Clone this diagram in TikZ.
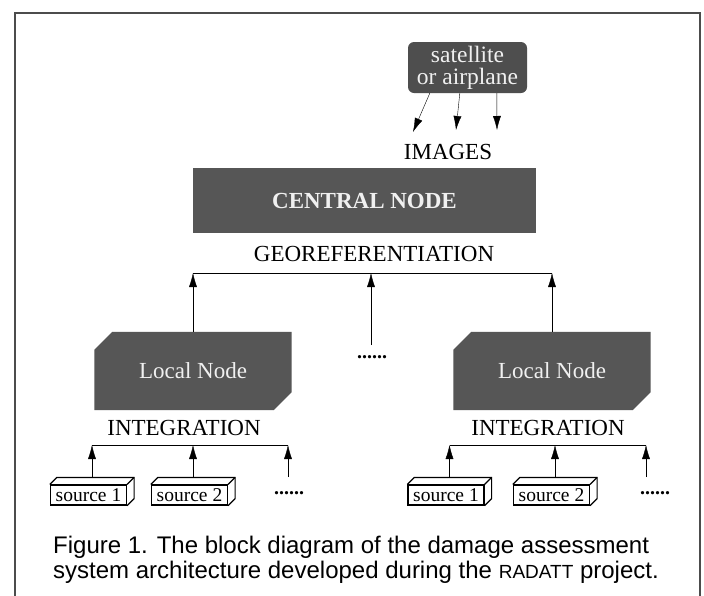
\documentclass[tikz,border=0pt]{standalone}
\usepackage{fontspec}
\setmainfont{Liberation Serif}
\newfontfamily\capfont{Liberation Sans}
\usetikzlibrary{arrows.meta,calc,backgrounds}
\definecolor{boxgray}{HTML}{565656}
\definecolor{satgray}{HTML}{4E4E4E}
\definecolor{boxtext}{HTML}{F0F0F0}
\begin{document}
\begin{tikzpicture}[x=1pt,y=-1pt,line width=1.5pt,
  arr/.style={-{Latex[length=14pt,width=8pt]}},
  lbl/.style={font=\fontsize{23}{24}\selectfont,inner sep=0pt},
  satbox/.style={fill=satgray,rounded corners=6pt,minimum width=119pt,minimum height=51pt,
    text=boxtext,align=center,inner sep=0pt,font=\fontsize{23.5}{22}\selectfont},
  cbox/.style={fill=boxgray,minimum width=343pt,minimum height=65pt,text=boxtext,
    inner sep=0pt,font=\bfseries\fontsize{23}{24}\selectfont},
  lbox/.style={minimum width=197pt,minimum height=78pt,text=boxtext,inner sep=0pt,
    font=\fontsize{23}{24}\selectfont},
  srcbox/.style={draw,line width=1.2pt,fill=white,minimum width=76pt,minimum height=20pt,
    inner sep=0pt,font=\fontsize{19.5}{20}\selectfont},
  dotsl/.style={inner sep=0pt,font=\bfseries\fontsize{20}{20}\selectfont},
  capt/.style={inner sep=0pt,anchor=base west,font=\capfont\fontsize{24}{26}\selectfont},
  face/.style={line width=1.2pt}]
\useasboundingbox (0,0) rectangle (704,595);
\begin{pgfonlayer}{background}
\fill[white] (0,0) rectangle (704,595);
\end{pgfonlayer}
% frame
\draw[line width=1.5pt,black!70] (15,596) -- (15,13) -- (700,13) -- (700,596);

% satellite
\node[satbox] (sat) at (467.5,67.5) {satellite\\or airplane};
\node[lbl] (images) at (448,152) {IMAGES};
\coordinate (im1) at (413,132);
\coordinate (im2) at (456,130);
\coordinate (im3) at (497,130);
\draw[arr] ($(sat.south west)+(22,0)$) -- (im1);
\draw[arr] ($(sat.south west)+(52,0)$) -- (im2);
\draw[arr] ($(sat.south west)+(89,0)$) -- (im3);

% central node
\node[cbox] (central) at (364.5,200.5) {CENTRAL NODE};
\node[lbl] (geo) at (374,254) {GEOREFERENTIATION};
\coordinate (gL) at (193,273);
\coordinate (gM) at (371,273);
\coordinate (gR) at (552,273);
\draw (gL) -- (gR);

% local nodes
\node[lbox] (ln1) at (193,371) {Local Node};
\node[lbox] (ln2) at (552,371) {Local Node};
\begin{pgfonlayer}{background}
\foreach \n in {ln1,ln2}{
  \fill[boxgray] ($(\n.north west)+(18,0)$) -- (\n.north east) -- ($(\n.south east)+(0,-18)$)
    -- ($(\n.south east)+(-18,0)$) -- (\n.south west) -- ($(\n.north west)+(0,18)$) -- cycle;
}
\end{pgfonlayer}
\draw[arr] (ln1.north) -- (gL);
\draw[arr] (ln2.north) -- (gR);
\node[dotsl] (dm) at (372,357) {......};
\coordinate (dmt) at (371,345);
\draw[arr] (dmt) -- (gM);

% integration labels and buses
\node[lbl] (int1) at (184,428) {INTEGRATION};
\node[lbl] (int2) at (548,428) {INTEGRATION};
\coordinate (b1a) at (92,445);
\coordinate (b1b) at (193,445);
\coordinate (b1c) at (288,445);
\coordinate (b2a) at (449.5,445);
\coordinate (b2b) at (555,445);
\coordinate (b2c) at (646,445);
\draw (b1a) -- (b1c);
\draw (b2a) -- (b2c);

% sources
\node[srcbox] (s11) at (88.5,495) {source 1};
\node[srcbox] (s12) at (189.5,495) {source 2};
\node[srcbox] (s21) at (446,495) {source 1};
\node[srcbox] (s22) at (551.5,495) {source 2};
\foreach \n in {s11,s12,s21,s22}{
  \draw[face] (\n.north west) -- ($(\n.north west)+(7,-7)$) -- ($(\n.north east)+(7,-7)$)
    -- ($(\n.south east)+(7,-7)$) -- (\n.south east);
  \draw[face] (\n.north east) -- ($(\n.north east)+(7,-7)$);
}
\node[dotsl] (d1) at (289,493) {......};
\node[dotsl] (d2) at (655,493) {......};
\coordinate (d1t) at (288,477);
\coordinate (d2t) at (646,477);
\draw[arr] ($(s11.north)+(3.5,-7)$) -- (b1a);
\draw[arr] ($(s12.north)+(3.5,-7)$) -- (b1b);
\draw[arr] (d1t) -- (b1c);
\draw[arr] ($(s21.north)+(3.5,-7)$) -- (b2a);
\draw[arr] ($(s22.north)+(3.5,-7)$) -- (b2b);
\draw[arr] (d2t) -- (b2c);

% caption
\node[capt] (cap1) at (53,553) {Figure 1. The block diagram of the damage assessment};
\node[capt] (cap2) at (53,578) {system architecture developed during the {\fontsize{19}{20}\selectfont RADATT} project.};
\end{tikzpicture}
\end{document}
